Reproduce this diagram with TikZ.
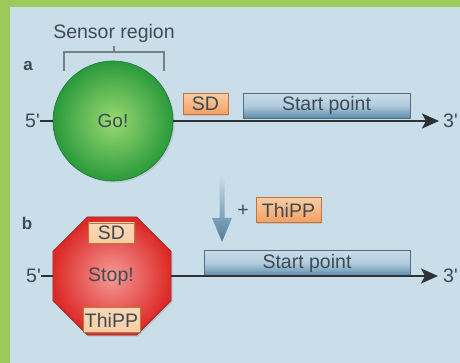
\documentclass[tikz,border=0pt]{standalone}
\usepackage{fontspec}
\setmainfont{Liberation Sans}
\usetikzlibrary{arrows.meta, positioning, shapes.geometric, calc, shadows}
\definecolor{bgblue}{HTML}{CADEEA}
\definecolor{framegreen}{HTML}{9CCB5C}
\definecolor{inkgray}{HTML}{3E4A54}
\definecolor{dnagray}{HTML}{2E3236}
\definecolor{sdorange}{HTML}{F2A062}
\definecolor{sdlight}{HTML}{F9CDA4}
\definecolor{sdedge}{HTML}{C47436}
\definecolor{startlight}{HTML}{C8DCE9}
\definecolor{startdark}{HTML}{5C8BAB}
\definecolor{startedge}{HTML}{4E6E86}
\definecolor{golight}{HTML}{9ADA72}
\definecolor{godark}{HTML}{2A9A3C}
\definecolor{stoplight}{HTML}{F59A96}
\definecolor{stopdark}{HTML}{DC2A28}

\begin{document}
\begin{tikzpicture}[x=1pt, y=-1pt,
    txt/.style={font=\fontsize{19.5}{22}\selectfont, text=inkgray, inner sep=0pt},
    panel/.style={font=\fontsize{17}{18}\selectfont\bfseries, text=inkgray, inner sep=0pt},
    dna/.style={line width=2.4pt, draw=dnagray},
    sdbox/.style={txt, draw=sdedge, line width=0.8pt, top color=sdlight, bottom color=sdorange,
                  minimum width=#1, minimum height=21pt,
                  drop shadow={opacity=0.25, shadow xshift=1.2pt, shadow yshift=-1.2pt}},
    startbox/.style={txt, draw=startedge, line width=0.8pt, top color=startlight, bottom color=startdark,
                  middle color=startlight!80!startdark, minimum width=#1, minimum height=25pt},
]
    % background and frame
    \fill[framegreen] (0,0) rectangle (460,363);
    \fill[bgblue] (10,7) rectangle (460,363);

    % === a: riboswitch open ===
    \node[txt] (sensor) at (114,33) {Sensor region};
    \draw[line width=1.1pt, inkgray!70] (64,71) -- (64,52) -- (164,52) -- (164,71);
    \draw[line width=1.1pt, inkgray!70] (114,52) -- (114,46);
    \node[panel] (lbla) at (28,66) {a};

    \node[startbox=167pt] (starta) at (326.5,105.5) {Start point};
    \node[sdbox=45pt] (sda) at (205.5,104) {SD};
    \node[txt, anchor=east] (fivea) at (40,121) {5\textquotesingle};
    \node[txt, anchor=west] (threea) at (443,121) {3\textquotesingle};
    \node[circle, minimum size=120pt, inner sep=0pt, draw=godark!80!black, line width=0.6pt,
          inner color=golight, outer color=godark,
          drop shadow={opacity=0.25, shadow xshift=1.5pt, shadow yshift=-1.5pt},
          font=\fontsize{19}{22}\selectfont, text=inkgray] (go) at (113,121) {Go!};
    \draw[dna] (fivea.east) -- (go.west);
    \draw[dna, -{Stealth[length=17pt, width=15pt, inset=4pt]}] (go.east) -- ($(threea.west)+(-4,0)$);

    % === ligand binding ===
    \coordinate (arrtop) at (222,175);
    \coordinate (arrtip) at (222,242);
    \shade[top color=bgblue, bottom color=startdark!90!black]
        ($(arrtop)+(-2.5,0)$) -- ($(arrtop)+(2.5,0)$) -- ($(arrtip)+(2.5,-24)$) -- ($(arrtip)+(10,-24)$)
        -- (arrtip) -- ($(arrtip)+(-10,-24)$) -- ($(arrtip)+(-2.5,-24)$) -- cycle;
    \node[txt] (plus) at (243,211) {+};
    \node[sdbox=65pt, minimum height=25pt] (thippfree) at (288.5,210) {ThiPP};

    % === b: riboswitch closed ===
    \node[panel] (lblb) at (27,223) {b};
    \node[startbox=206pt, minimum height=26pt] (startb) at (307,263) {Start point};
    \node[txt, anchor=east] (fiveb) at (41,276) {5\textquotesingle};
    \node[txt, anchor=west] (threeb) at (443,276) {3\textquotesingle};
    \node[regular polygon, regular polygon sides=8, minimum size=128pt, inner sep=0pt,
          draw=stopdark!70!black, line width=0.6pt, inner color=stoplight, outer color=stopdark,
          drop shadow={opacity=0.25, shadow xshift=1.5pt, shadow yshift=-1.5pt}] (stop) at (112,276) {};
    \node[txt] (stoptxt) at (111,277) {Stop!};
    \node[sdbox=46pt, minimum height=20pt, top color=sdlight!80!white, bottom color=sdlight] (sdb) at (111.5,233) {SD};
    \node[sdbox=57pt, minimum height=25pt, top color=sdlight!80!white, bottom color=sdlight] (thippb) at (111.5,320) {ThiPP};
    \draw[dna] (fiveb.east) -- (stop.west);
    \draw[dna, -{Stealth[length=17pt, width=15pt, inset=4pt]}] (stop.east) -- ($(threeb.west)+(-5,0)$);

    \useasboundingbox (0,0) rectangle (460,363);
\end{tikzpicture}
\end{document}
